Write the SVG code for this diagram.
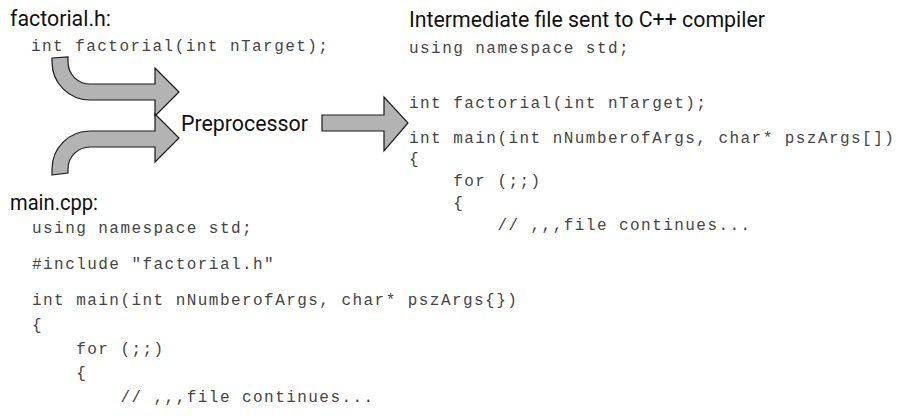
<svg xmlns="http://www.w3.org/2000/svg" width="900" height="416" viewBox="0 0 900 416">
  <style>
    .head { font-family: Roboto, "Liberation Sans", sans-serif; font-size: 22px; fill: #111; }
    .code { font-family: "Liberation Mono", "DejaVu Sans Mono", monospace; font-size: 16px; letter-spacing: 1.45px; fill: #444; white-space: pre; }
    .arrow { fill: #b3b3b3; stroke: #1a1a1a; stroke-width: 1.2; stroke-linejoin: miter; }
  </style>
  <rect width="900" height="416" fill="#ffffff"/>

  <!-- header file -->
  <g id="factorial-h">
    <text class="head" x="10" y="26" textLength="101" lengthAdjust="spacingAndGlyphs">factorial.h:</text>
    <text class="code" x="31" y="51">int factorial(int nTarget);</text>
  </g>

  <!-- source file -->
  <g id="main-cpp">
    <text class="head" x="10" y="210" textLength="88" lengthAdjust="spacingAndGlyphs">main.cpp:</text>
    <text class="code" x="32" y="233">using namespace std;</text>
    <text class="code" x="32" y="269">#include "factorial.h"</text>
    <text class="code" x="32" y="305">int main(int nNumberofArgs, char* pszArgs{})</text>
    <text class="code" x="32" y="330">{</text>
    <text class="code" x="32" y="354">    for (;;)</text>
    <text class="code" x="32" y="378">    {</text>
    <text class="code" x="32" y="402">        // ,,,file continues...</text>
  </g>

  <!-- preprocessor -->
  <g id="preprocessor">
    <text class="head" x="181" y="131" textLength="127" lengthAdjust="spacingAndGlyphs">Preprocessor</text>
  </g>

  <!-- intermediate output -->
  <g id="intermediate">
    <text class="head" x="409" y="27" textLength="356" lengthAdjust="spacingAndGlyphs">Intermediate file sent to C++ compiler</text>
    <text class="code" x="409" y="53">using namespace std;</text>
    <text class="code" x="409" y="108">int factorial(int nTarget);</text>
    <text class="code" x="409" y="143">int main(int nNumberofArgs, char* pszArgs[])</text>
    <text class="code" x="409" y="164">{</text>
    <text class="code" x="409" y="186">    for (;;)</text>
    <text class="code" x="409" y="208">    {</text>
    <text class="code" x="409" y="230">        // ,,,file continues...</text>
  </g>

  <!-- flow arrows -->
  <g id="connectors">
    <path class="arrow" d="M52,58 L68,57 L68,62 A22,22 0 0 0 90,84 L155,84 L155,68 L179,92 L155,116 L155,100 L90,100 A38,38 0 0 1 52,62 Z"/>
    <path class="arrow" d="M52,175 L68,173 L68,169 A22,22 0 0 1 90,147 L155,147 L155,162 L179,138 L155,114 L155,131 L90,131 A38,38 0 0 0 52,169 Z"/>
    <path class="arrow" d="M322,115 L384,115 L384,97 L408,123 L384,151 L384,131 L322,131 Z"/>
  </g>
</svg>
